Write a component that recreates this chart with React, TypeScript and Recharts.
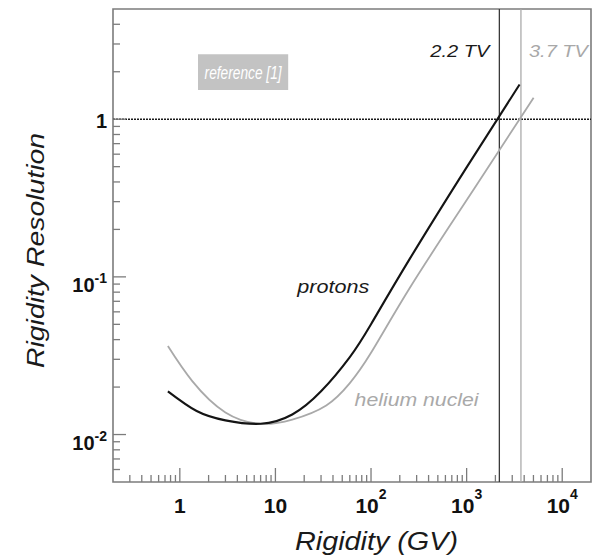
import * as React from "react";
import {
  LineChart,
  Line,
  XAxis,
  YAxis,
  ReferenceLine,
  ReferenceArea,
  ReferenceDot,
} from "recharts";

const FONT = '"Liberation Sans", Arial, Helvetica, sans-serif';

// rigidity (GV) vs relative rigidity resolution
const protonRigidity = [0.75, 1.5, 3, 7, 15, 30, 60, 100, 254, 1000, 3580];
const protonResolution = [0.0188, 0.0141, 0.0123, 0.0117, 0.0134, 0.0188, 0.031, 0.0501, 0.13, 0.495, 1.66];

const heliumRigidity = [0.75, 1.35, 3, 7, 15, 34, 60, 100, 254, 960, 3580, 5020];
const heliumResolution = [0.0364, 0.0218, 0.0138, 0.0117, 0.01245, 0.0153, 0.0212, 0.033, 0.085, 0.295, 1.0, 1.37];

// maximum detectable rigidities (GV)
const mdrProtons = 2200;
const mdrHelium = 3700;

const xMajorTicks = [1, 10, 100, 1000, 10000];
const xTickLabels = ["1", "10", "10", "10", "10"];
const xTickExponents = ["", "", "2", "3", "4"];
const xMinorTicks = [
  0.3, 0.4, 0.5, 0.6, 0.7, 0.8, 0.9,
  2, 3, 4, 5, 6, 7, 8, 9,
  20, 30, 40, 50, 60, 70, 80, 90,
  200, 300, 400, 500, 600, 700, 800, 900,
  2000, 3000, 4000, 5000, 6000, 7000, 8000, 9000,
];

const yMajorTicks = [0.01, 0.1, 1];
const yTickLabels = ["10", "10", "1"];
const yTickExponents = ["-2", "-1", ""];
const yMinorTicks = [
  0.006, 0.007, 0.008, 0.009,
  0.02, 0.03, 0.04, 0.05, 0.06, 0.07, 0.08, 0.09,
  0.2, 0.3, 0.4, 0.5, 0.6, 0.7, 0.8, 0.9,
  2, 3, 4,
];

const protons = protonRigidity.map((r, i) => ({ r, res: protonResolution[i] }));
const helium = heliumRigidity.map((r, i) => ({ r, res: heliumResolution[i] }));
const xTicks = [...xMajorTicks, ...xMinorTicks].sort((a, b) => a - b);
const yTicks = [...yMajorTicks, ...yMinorTicks].sort((a, b) => a - b);

const AXIS = "#7c7c7c";

function XTick(props: any) {
  const { x, y, payload } = props;
  const i = xMajorTicks.indexOf(payload.value);
  const major = i >= 0;
  return (
    <g>
      <line x1={x} x2={x} y1={y} y2={y - (major ? 14 : 7)} stroke={AXIS} strokeWidth={1.3} />
      {major && (
        <text x={x} y={y + 31} textAnchor="middle" fontFamily={FONT} fontWeight="bold" fontSize={21} fill="#111">
          {xTickLabels[i]}
          {xTickExponents[i] ? (
            <tspan dy={-14} fontSize={14}>
              {xTickExponents[i]}
            </tspan>
          ) : null}
        </text>
      )}
    </g>
  );
}

function YTick(props: any) {
  const { x, y, payload } = props;
  const i = yMajorTicks.indexOf(payload.value);
  const major = i >= 0;
  const exp = major ? yTickExponents[i] : "";
  return (
    <g>
      <line x1={x} x2={x + (major ? 13 : 7)} y1={y} y2={y} stroke={AXIS} strokeWidth={1.3} />
      {major && (
        <text x={x - 6} y={y + (exp ? 15 : 9)} textAnchor="end" fontFamily={FONT} fontWeight="bold" fontSize={20} fill="#111">
          {yTickLabels[i]}
          {exp ? (
            <tspan dy={-9} fontSize={14}>
              {exp}
            </tspan>
          ) : null}
        </text>
      )}
    </g>
  );
}

function italic(text: string, x: number, y: number, size: number, color: string, len: number, anchor = "start") {
  return (
    <text
      x={x}
      y={y}
      textAnchor={anchor}
      fontFamily={FONT}
      fontStyle="italic"
      fontSize={size}
      fill={color}
      textLength={len}
      lengthAdjust="spacingAndGlyphs"
    >
      {text}
    </text>
  );
}

export default function App() {
  return (
    <div style={{ position: "absolute", left: 0, top: 0, width: 599, height: 558, background: "#fff" }}>
      <LineChart width={599} height={558} margin={{ top: 9, right: 8, bottom: 0, left: 0 }}>
        <XAxis
          type="number"
          dataKey="r"
          scale="log"
          domain={[0.2, 20000]}
          allowDataOverflow
          ticks={xTicks}
          interval={0}
          height={76}
          axisLine={false}
          tickLine={false}
          tickSize={0}
          tickMargin={0}
          tick={(p: any) => <XTick {...p} />}
          label={(p: any) => {
            const vb = p.viewBox;
            return italic("Rigidity (GV)", vb.x + 263.5, vb.y + 68, 26, "#1a1a1a", 163, "middle");
          }}
        />
        <YAxis
          type="number"
          dataKey="res"
          scale="log"
          domain={[0.005, 5]}
          allowDataOverflow
          ticks={yTicks}
          interval={0}
          width={113}
          axisLine={false}
          tickLine={false}
          tickSize={0}
          tickMargin={0}
          tick={(p: any) => <YTick {...p} />}
          label={(p: any) => {
            const vb = p.viewBox;
            const cx = 44;
            const cy = vb.y + 241.5;
            return (
              <g transform={`rotate(-90, ${cx}, ${cy})`}>
                {italic("Rigidity Resolution", cx, cy, 24, "#1a1a1a", 235, "middle")}
              </g>
            );
          }}
        />

        <ReferenceArea
          x1={0.2}
          x2={20000}
          y1={0.005}
          y2={5}
          fill="none"
          stroke={AXIS}
          strokeWidth={1.6}
          ifOverflow="visible"
        />

        <ReferenceArea
          x1={1.55}
          x2={13.6}
          y1={1.53}
          y2={2.58}
          fill="#c3c3c3"
          fillOpacity={1}
          stroke="none"
          label={(p: any) => {
            const vb = p.viewBox;
            return italic("reference [1]", vb.x + vb.width / 2, vb.y + vb.height / 2 + 7, 19, "#ffffff", 77, "middle");
          }}
        />

        <ReferenceLine y={1} stroke="#1a1a1a" strokeWidth={1.5} strokeDasharray="2 1" />
        <ReferenceLine
          x={mdrProtons}
          stroke="#3a3a3a"
          strokeWidth={1.3}
          label={(p: any) => {
            const vb = p.viewBox;
            return italic("2.2 TV", vb.x - 10, vb.y + 48, 17, "#1a1a1a", 59, "end");
          }}
        />
        <ReferenceLine
          x={mdrHelium}
          stroke="#ababab"
          strokeWidth={1.3}
          label={(p: any) => {
            const vb = p.viewBox;
            return italic("3.7 TV", vb.x + 8, vb.y + 48, 17, "#a8a8a8", 59, "start");
          }}
        />

        <Line
          data={helium}
          dataKey="res"
          type="natural"
          stroke="#a9a9a9"
          strokeWidth={1.8}
          dot={false}
          activeDot={false}
          isAnimationActive={false}
        />
        <Line
          data={protons}
          dataKey="res"
          type="natural"
          stroke="#141414"
          strokeWidth={2.1}
          dot={false}
          activeDot={false}
          isAnimationActive={false}
        />

        <ReferenceDot
          x={16.9}
          y={0.0793}
          r={1}
          fill="none"
          stroke="none"
          label={(p: any) => {
            const vb = p.viewBox;
            return italic("protons", vb.x + 1, vb.y + 1, 19, "#1a1a1a", 72, "start");
          }}
        />
        <ReferenceDot
          x={67.3}
          y={0.0151}
          r={1}
          fill="none"
          stroke="none"
          label={(p: any) => {
            const vb = p.viewBox;
            return italic("helium nuclei", vb.x + 1, vb.y + 1, 19, "#a9a9a9", 124, "start");
          }}
        />
      </LineChart>
    </div>
  );
}
